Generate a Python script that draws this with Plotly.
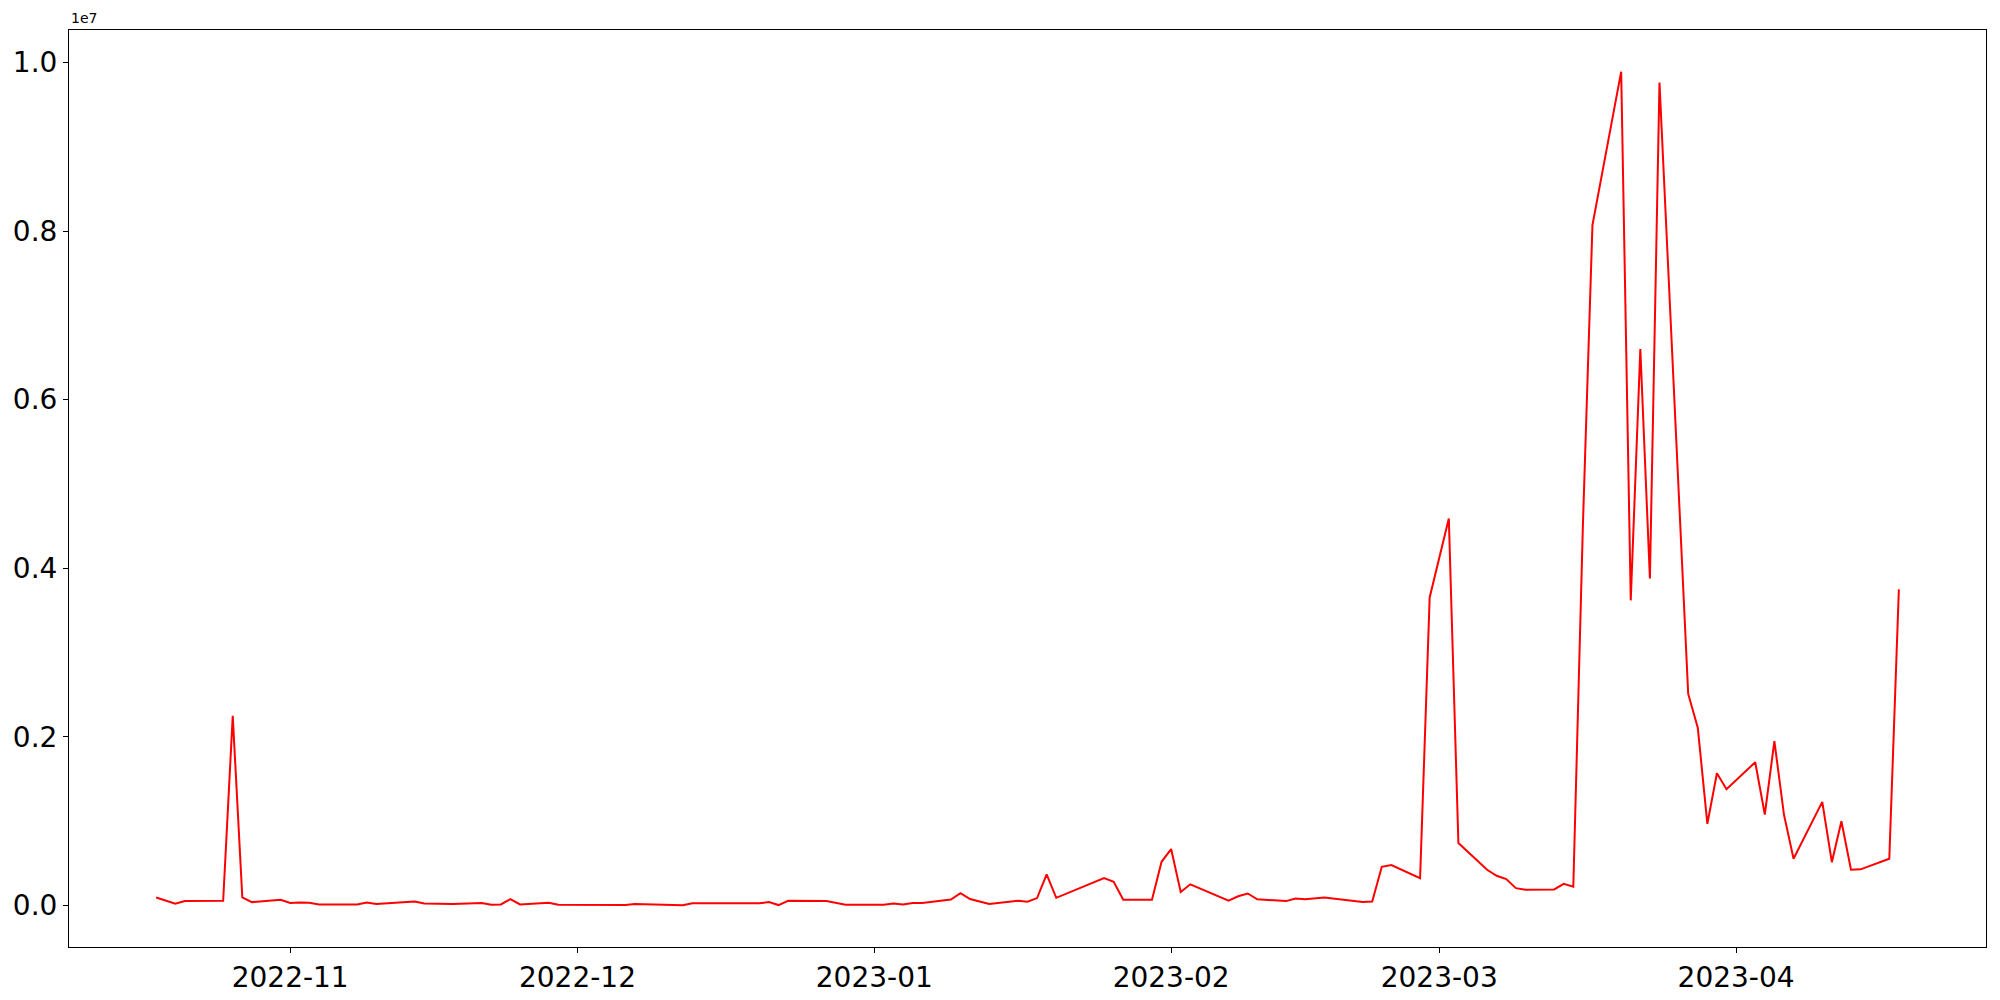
import pandas as pd
import plotly.graph_objects as go

dates = [
    "2022-10-18", "2022-10-20", "2022-10-21", "2022-10-25", "2022-10-26", "2022-10-27",
    "2022-10-28", "2022-10-31", "2022-11-01", "2022-11-02", "2022-11-03", "2022-11-04",
    "2022-11-08", "2022-11-09", "2022-11-10", "2022-11-14", "2022-11-15", "2022-11-17",
    "2022-11-18", "2022-11-21", "2022-11-22", "2022-11-23", "2022-11-24", "2022-11-25",
    "2022-11-28", "2022-11-29", "2022-12-06", "2022-12-07", "2022-12-12", "2022-12-13",
    "2022-12-20", "2022-12-21", "2022-12-22", "2022-12-23", "2022-12-27", "2022-12-29",
    "2023-01-02", "2023-01-03", "2023-01-04", "2023-01-05", "2023-01-06", "2023-01-09",
    "2023-01-10", "2023-01-11", "2023-01-13", "2023-01-16", "2023-01-17", "2023-01-18",
    "2023-01-19", "2023-01-20", "2023-01-25", "2023-01-26", "2023-01-27", "2023-01-30",
    "2023-01-31", "2023-02-01", "2023-02-02", "2023-02-03", "2023-02-07", "2023-02-08",
    "2023-02-09", "2023-02-10", "2023-02-13", "2023-02-14", "2023-02-15", "2023-02-17",
    "2023-02-21", "2023-02-22", "2023-02-23", "2023-02-24", "2023-02-27", "2023-02-28",
    "2023-03-02", "2023-03-03", "2023-03-06", "2023-03-07", "2023-03-08", "2023-03-09",
    "2023-03-10", "2023-03-13", "2023-03-14", "2023-03-15", "2023-03-16", "2023-03-17",
    "2023-03-20", "2023-03-21", "2023-03-22", "2023-03-23", "2023-03-24", "2023-03-27",
    "2023-03-28", "2023-03-29", "2023-03-30", "2023-03-31", "2023-04-03", "2023-04-04",
    "2023-04-05", "2023-04-06", "2023-04-07", "2023-04-10", "2023-04-11", "2023-04-12",
    "2023-04-13", "2023-04-14", "2023-04-17", "2023-04-18",
]

values = [
    96000, 21000, 53000, 57000, 2250000, 96000,
    41000, 69000, 30000, 37000, 33000, 13000,
    13000, 37000, 18000, 47000, 25000, 25000,
    18000, 30000, 9000, 13000, 77000, 13000,
    33000, 9000, 6000, 18000, 3000, 27000,
    27000, 41000, 6000, 57000, 53000, 9000,
    9000, 25000, 13000, 30000, 30000, 72000,
    148000, 77000, 18000, 57000, 45000, 89000,
    369000, 92000, 326000, 282000, 69000, 69000,
    519000, 670000, 160000, 252000, 57000, 110000,
    143000, 75000, 53000, 84000, 75000, 96000,
    41000, 49000, 460000, 480000, 324000, 3655000,
    4590000, 741000, 424000, 353000, 314000, 207000,
    187000, 191000, 258000, 223000, 4500000, 8070000,
    9890000, 3620000, 6600000, 3880000, 9760000, 2510000,
    2110000, 970000, 1570000, 1380000, 1700000, 1080000,
    1950000, 1080000, 555000, 1230000, 515000, 1000000,
    425000, 430000, 555000, 3750000,
]

y_tick_values = [0, 2e6, 4e6, 6e6, 8e6, 1e7]
y_tick_labels = ["0.0", "0.2", "0.4", "0.6", "0.8", "1.0"]
x_tick_start = "2022-11-01"

x = pd.to_datetime(dates)

# matplotlib-like 5% margins
x_span = x.max() - x.min()
x_range = [x.min() - 0.05 * x_span, x.max() + 0.05 * x_span]
y_span = max(values) - min(values)
y_range = [min(values) - 0.05 * y_span, max(values) + 0.05 * y_span]

font = "DejaVu Sans, Liberation Sans, sans-serif"

fig = go.Figure(
    go.Scatter(
        x=x,
        y=values,
        mode="lines",
        line=dict(color="red", width=2),
        showlegend=False,
    )
)

fig.update_layout(
    width=2000,
    height=1000,
    paper_bgcolor="white",
    plot_bgcolor="white",
    margin=dict(l=69, r=14, t=30, b=53, pad=0),
    font=dict(family=font, color="black", size=28),
)

axis_style = dict(
    ticks="outside",
    ticklen=5,
    tickwidth=1,
    tickcolor="black",
    tickfont=dict(family=font, size=28, color="black"),
    showgrid=False,
    zeroline=False,
    showline=True,
    linecolor="black",
    linewidth=1,
    mirror=True,
    automargin=False,
)

fig.update_xaxes(
    type="date",
    range=x_range,
    tick0=x_tick_start,
    dtick="M1",
    tickformat="%Y-%m",
    **axis_style,
)

fig.update_yaxes(
    range=y_range,
    tickmode="array",
    tickvals=y_tick_values,
    ticktext=y_tick_labels,
    **axis_style,
)

fig.add_annotation(
    text="1e7",
    xref="paper",
    yref="paper",
    x=0,
    y=1,
    xanchor="left",
    yanchor="bottom",
    yshift=2,
    showarrow=False,
    font=dict(family=font, size=14, color="black"),
)

fig.write_html(
    "out.html",
    config={"displayModeBar": False},
    post_script="document.body.style.margin='0';document.body.style.overflow='hidden';",
)
